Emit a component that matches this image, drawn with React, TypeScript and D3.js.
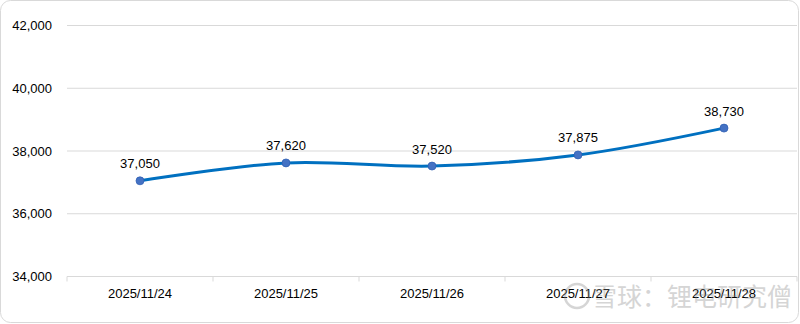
import React from "react";
import * as d3 from "d3";

const categories = ["2025/11/24", "2025/11/25", "2025/11/26", "2025/11/27", "2025/11/28"];
const values = [37050, 37620, 37520, 37875, 38730];
const yTicks = [34000, 36000, 38000, 40000, 42000];

export default function App() {
  const W = 800, H = 324;
  const left = 67, right = 797, top = 25.5, bottom = 276.5;
  const x = d3.scaleBand<string>().domain(categories).range([left, right]);
  const y = d3.scaleLinear().domain([34000, 42000]).range([bottom, top]);
  const fmt = d3.format(",");
  const pts: [number, number][] = values.map((v, i) => [x(categories[i])! + x.bandwidth() / 2, y(v)]);
  const line = d3.line().curve(d3.curveCatmullRom.alpha(0.5))(pts) || "";
  const font = "'Liberation Sans', Arial, sans-serif";
  return (
    <svg width={W} height={H} style={{ position: "absolute", left: 0, top: 0 }} fontFamily={font}>
      <rect x={0.5} y={0.5} width={W - 2} height={H - 2} rx={10} ry={10} fill="#fff" stroke="#d9d9d9" />
      {yTicks.map((t) => (
        <g key={t}>
          <line x1={left} x2={right} y1={y(t)} y2={y(t)} stroke="#d9d9d9" strokeWidth={1} />
          <text x={52} y={y(t)} dy="0.35em" textAnchor="end" fontSize={13} fill="#000">{fmt(t)}</text>
        </g>
      ))}
      {categories.map((c, i) => (
        <g key={c}>
          <line x1={x(c)!} x2={x(c)!} y1={bottom} y2={bottom + 5} stroke="#d9d9d9" />
          {i === categories.length - 1 && (
            <line x1={right} x2={right} y1={bottom} y2={bottom + 5} stroke="#d9d9d9" />
          )}
          <text x={x(c)! + x.bandwidth() / 2} y={293} dy="0.35em" textAnchor="middle" fontSize={13} fill="#000">{c}</text>
        </g>
      ))}
      <path d={line} fill="none" stroke="#0070C0" strokeWidth={3} strokeLinecap="round" />
      {pts.map((p, i) => (
        <g key={i}>
          <circle cx={p[0]} cy={p[1]} r={4} fill="#4472C4" stroke="#2F5FB3" strokeWidth={0.75} />
          <text x={p[0]} y={p[1] - 17} dy="0.35em" textAnchor="middle" fontSize={13} fill="#000">{fmt(values[i])}</text>
        </g>
      ))}
      <g opacity={0.35} fill="#777">
        <circle cx={577} cy={296} r={12} fill="none" stroke="#888" strokeWidth={2.5} />
        <text x={592} y={306} fontSize={25} fontFamily="'Noto Sans CJK SC', sans-serif" fill="#888">雪球：锂电研究僧</text>
      </g>
    </svg>
  );
}
